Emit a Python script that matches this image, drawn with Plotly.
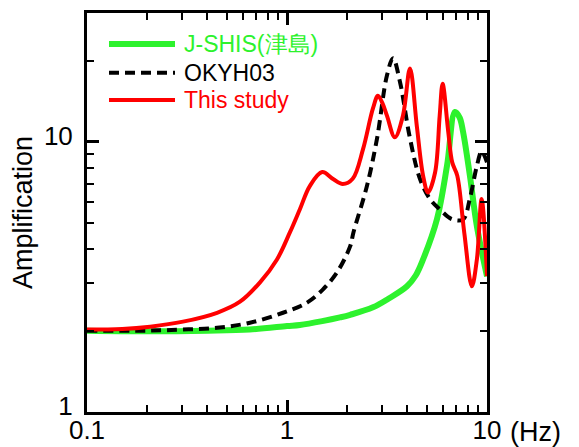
import plotly.graph_objects as go

# J-SHIS(津島)
jshis_f = [0.1, 0.2, 0.4, 0.65, 1.0, 1.16, 1.5, 1.84, 2.07, 2.69, 3.2, 3.98, 4.4, 4.79, 5.62, 6.31, 6.92, 7.3, 7.59, 8.22, 8.9, 10.0]
jshis_a = [2.0, 1.99, 2.0, 2.02, 2.08, 2.1, 2.17, 2.24, 2.29, 2.44, 2.62, 2.92, 3.2, 3.67, 5.17, 8.15, 12.9, 12.3, 10.9, 7.47, 4.87, 3.18]

# OKYH03
okyh_f = [0.1, 0.2, 0.3, 0.447, 0.653, 0.955, 1.26, 1.51, 1.78, 2.07, 2.15, 2.51, 2.82, 3.16, 3.39, 3.67, 4.12, 4.62, 5.19, 5.8, 6.7, 7.6, 8.2, 8.9, 9.4, 10.0]
okyh_a = [2.0, 2.0, 2.02, 2.05, 2.14, 2.33, 2.54, 2.84, 3.29, 4.11, 4.63, 6.86, 10.3, 17.6, 20.4, 16.7, 10.3, 7.3, 6.14, 5.63, 5.17, 5.17, 6.14, 8.15, 9.2, 8.4]

# This study
this_f = [0.1, 0.15, 0.207, 0.302, 0.447, 0.582, 0.733, 0.891, 1.035, 1.16, 1.3, 1.5, 1.7, 1.9, 2.13, 2.4, 2.69, 2.85, 3.0, 3.16, 3.46, 3.8, 4.12, 4.46, 4.79, 5.07, 5.5, 5.8, 6.0, 6.4, 6.7, 7.1, 7.7, 8.4, 8.9, 9.4, 10.0]
this_a = [2.02, 2.03, 2.07, 2.16, 2.33, 2.56, 3.02, 3.67, 4.63, 5.63, 6.86, 7.73, 7.28, 6.98, 7.3, 9.4, 13.3, 14.8, 13.9, 12.5, 10.4, 12.5, 18.7, 11.4, 7.5, 6.5, 7.7, 12.5, 16.4, 10.9, 8.4, 7.5, 4.6, 2.92, 3.67, 6.14, 3.18]

# tick labels
x_major = [0.1, 1, 10]
x_major_text = ["0.1", "1", "10"]
x_minor = [0.2, 0.3, 0.4, 0.5, 0.6, 0.7, 0.8, 0.9, 2, 3, 4, 5, 6, 7, 8, 9]
y_major = [1, 10]
y_major_text = ["1", "10"]
y_minor = [2, 3, 4, 5, 6, 7, 8, 9, 20, 30]

names = ["J-SHIS(津島)", "OKYH03", "This study"]

GREEN = "#2df22d"
RED = "#ff0000"
FONT = "Liberation Sans, Arial, sans-serif"

styles = [
    dict(color=GREEN, width=6),
    dict(color="black", width=4, dash="10px,6px"),
    dict(color=RED, width=4),
]
text_colors = [GREEN, "black", RED]

fig = go.Figure()
for f, a, nm, st in zip([jshis_f, okyh_f, this_f], [jshis_a, okyh_a, this_a], names, styles):
    fig.add_trace(go.Scatter(x=f, y=a, mode="lines", name=nm, showlegend=False,
                             line=dict(shape="spline", **st)))

axis_font = dict(family=FONT, size=26, color="black")
common = dict(type="log", showline=True, linecolor="black", linewidth=3, mirror="ticks",
              ticks="inside", ticklen=12, tickwidth=2.5, tickcolor="black", showgrid=False, zeroline=False,
              tickfont=axis_font, automargin=False)

fig.update_xaxes(range=[-1, 1], tickmode="array", tickvals=x_major, ticktext=x_major_text, ticklabelstandoff=-7,
                 minor=dict(tickmode="array", tickvals=x_minor, ticks="inside", ticklen=7, tickwidth=2,
                            tickcolor="black", showgrid=False),
                 **common)
fig.update_yaxes(range=[0, 1.477], tickmode="array", tickvals=y_major, ticktext=y_major_text, ticklabelstandoff=6,
                 ticklabelshift=-6,
                 minor=dict(tickmode="array", tickvals=y_minor, ticks="inside", ticklen=7, tickwidth=2,
                            tickcolor="black", showgrid=False),
                 title=dict(text="Amplification", font=dict(family=FONT, size=27, color="black"), standoff=8),
                 **common)

fig.add_annotation(text="(Hz)", xref="paper", yref="paper", x=1.0, y=0, xanchor="left", yanchor="top",
                   xshift=21, yshift=-3, showarrow=False, font=dict(family=FONT, size=27, color="black"))

# legend (drawn in paper coordinates)
leg_y = [0.922, 0.850, 0.782]
for yy, nm, st, tc in zip(leg_y, names, styles, text_colors):
    fig.add_shape(type="line", xref="paper", yref="paper", x0=0.055, x1=0.22, y0=yy, y1=yy,
                  line=dict(color=st["color"], width=st["width"], dash=st.get("dash", "solid")))
    fig.add_annotation(text=nm, xref="paper", yref="paper", x=0.237, y=yy, xanchor="left", yanchor="middle",
                       showarrow=False, font=dict(family=FONT, size=23, color=tc))

fig.update_layout(width=571, height=439, margin=dict(l=79, r=92, t=5, b=35),
                  paper_bgcolor="white", plot_bgcolor="white", showlegend=False)

fig.write_html("out.html")
